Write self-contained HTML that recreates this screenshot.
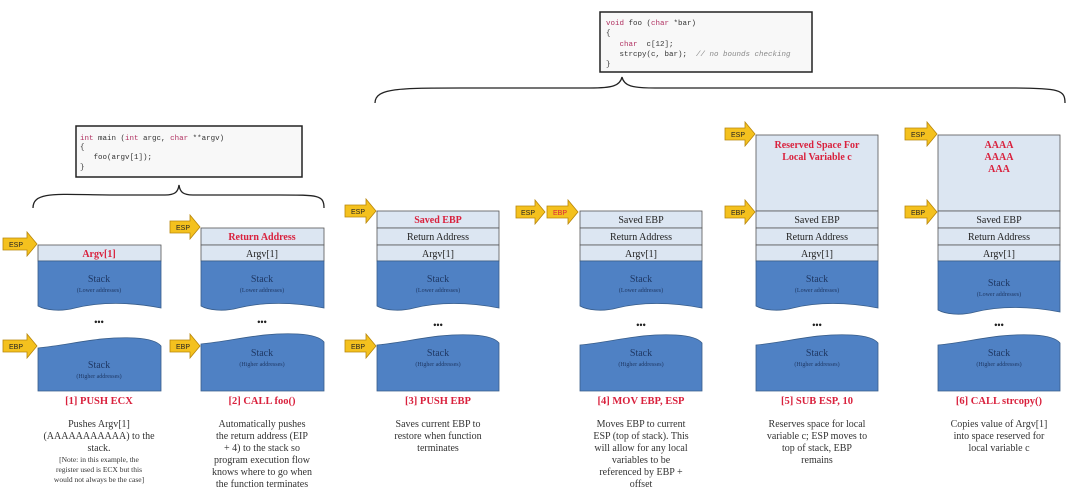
<!DOCTYPE html>
<html><head><meta charset="utf-8"><style>
html,body{margin:0;padding:0;background:#fff;}
svg{display:block;}
.r{font-family:"Liberation Serif",serif;font-size:10px;text-anchor:middle;fill:#222;}
.red{fill:#d9213d;font-weight:bold;}
.st{font-family:"Liberation Serif",serif;font-size:10px;text-anchor:middle;fill:#1f3864;}
.sm{font-family:"Liberation Serif",serif;font-size:6px;text-anchor:middle;fill:#1f3864;}
.t{font-family:"Liberation Serif",serif;font-size:10.5px;font-weight:bold;text-anchor:middle;fill:#d9213d;}
.d{font-family:"Liberation Serif",serif;font-size:10px;text-anchor:middle;fill:#333;}
.n{font-family:"Liberation Serif",serif;font-size:7.5px;text-anchor:middle;fill:#333;}
.c{font-family:"Liberation Mono",monospace;font-size:7.5px;fill:#333;white-space:pre;}
.k{fill:#b03060;}
.cm{fill:#888;font-style:italic;}
.a{font-family:"Liberation Sans",sans-serif;font-size:7px;fill:#222;}
.row{fill:#dce6f2;stroke:#555;stroke-width:0.8;}
.blue{fill:#4f81c4;stroke:#385d8a;stroke-width:0.8;}
.arr{fill:#f4c11e;stroke:#b8860b;stroke-width:0.8;}
</style></head><body>
<svg width="1080" height="492" viewBox="0 0 1080 492" xmlns="http://www.w3.org/2000/svg">
<rect width="1080" height="492" fill="#fff"/>

<!-- code boxes -->
<rect x="600" y="12" width="212" height="60" fill="#f8f8f8" stroke="#222" stroke-width="1.5"/>
<text class="c" x="606" y="25"><tspan class="k">void</tspan> foo (<tspan class="k">char</tspan> *bar)</text>
<text class="c" x="606" y="35">{</text>
<text class="c" x="606" y="46">   <tspan class="k">char</tspan>  c[12];</text>
<text class="c" x="606" y="56">   strcpy(c, bar);  <tspan class="cm">// no bounds checking</tspan></text>
<text class="c" x="606" y="66">}</text>

<rect x="76" y="126" width="226" height="51" fill="#f8f8f8" stroke="#222" stroke-width="1.5"/>
<text class="c" x="80" y="140"><tspan class="k">int</tspan> main (<tspan class="k">int</tspan> argc, <tspan class="k">char</tspan> **argv)</text>
<text class="c" x="80" y="149">{</text>
<text class="c" x="80" y="159">   foo(argv[1]);</text>
<text class="c" x="80" y="169">}</text>

<!-- braces -->
<path d="M33,208 C33,190 60,195 120,195 L165,195 C175,195 178,192 179,185 C180,192 183,195 193,195 L280,195 C318,195 324,195 324,208" fill="none" stroke="#222" stroke-width="1.3"/>
<path d="M375,103 C375,88 400,88 460,88 L590,88 C612,88 620,86 622,77 C624,86 632,88 655,88 L1010,88 C1060,88 1065,90 1065,103" fill="none" stroke="#222" stroke-width="1.3"/>

<!-- Column 1 -->
<rect class="row" x="38" y="245" width="123" height="16"/>
<text class="r red" x="99" y="257">Argv[1]</text>
<path class="blue" d="M38,261 H161 V308 C130,302 100,302 75,308 C60,312 45,310 38,306 Z"/>
<text class="st" x="99" y="282">Stack</text><text class="sm" x="99" y="292">(Lower addresses)</text>
<text class="r" x="99" y="325" style="font-size:9px;font-weight:bold">•••</text>
<path class="blue" d="M38,348 C70,345 100,336 135,338 C150,339 158,342 161,346 V391 H38 Z"/>
<text class="st" x="99" y="368">Stack</text><text class="sm" x="99" y="378">(Higher addresses)</text>

<!-- Column 2 -->
<rect class="row" x="201" y="228" width="123" height="17"/>
<text class="r red" x="262" y="240">Return Address</text>
<rect class="row" x="201" y="245" width="123" height="16"/>
<text class="r" x="262" y="257">Argv[1]</text>
<path class="blue" d="M201,261 H324 V308 C293,302 263,302 238,308 C223,312 208,310 201,306 Z"/>
<text class="st" x="262" y="282">Stack</text><text class="sm" x="262" y="292">(Lower addresses)</text>
<text class="r" x="262" y="325" style="font-size:9px;font-weight:bold">•••</text>
<path class="blue" d="M201,344 C233,341 263,332 298,334 C313,335 321,338 324,342 V391 H201 Z"/>
<text class="st" x="262" y="356">Stack</text><text class="sm" x="262" y="366">(Higher addresses)</text>

<!-- generic cols 3-6 -->
<g id="c3">
<rect class="row" x="377" y="211" width="122" height="17"/>
<text class="r red" x="438" y="223">Saved EBP</text>
<rect class="row" x="377" y="228" width="122" height="17"/>
<text class="r" x="438" y="240">Return Address</text>
<rect class="row" x="377" y="245" width="122" height="16"/>
<text class="r" x="438" y="257">Argv[1]</text>
<path class="blue" d="M377,261 H499 V308 C468,302 438,302 414,308 C399,312 384,310 377,306 Z"/>
<text class="st" x="438" y="282">Stack</text><text class="sm" x="438" y="292">(Lower addresses)</text>
<text class="r" x="438" y="328" style="font-size:9px;font-weight:bold">•••</text>
<path class="blue" d="M377,345 C409,342 438,333 473,335 C488,336 496,339 499,343 V391 H377 Z"/>
<text class="st" x="438" y="356">Stack</text><text class="sm" x="438" y="366">(Higher addresses)</text>
</g>

<g>
<rect class="row" x="580" y="211" width="122" height="17"/>
<text class="r" x="641" y="223">Saved EBP</text>
<rect class="row" x="580" y="228" width="122" height="17"/>
<text class="r" x="641" y="240">Return Address</text>
<rect class="row" x="580" y="245" width="122" height="16"/>
<text class="r" x="641" y="257">Argv[1]</text>
<path class="blue" d="M580,261 H702 V308 C671,302 641,302 617,308 C602,312 587,310 580,306 Z"/>
<text class="st" x="641" y="282">Stack</text><text class="sm" x="641" y="292">(Lower addresses)</text>
<text class="r" x="641" y="328" style="font-size:9px;font-weight:bold">•••</text>
<path class="blue" d="M580,345 C612,342 641,333 676,335 C691,336 699,339 702,343 V391 H580 Z"/>
<text class="st" x="641" y="356">Stack</text><text class="sm" x="641" y="366">(Higher addresses)</text>
</g>

<g>
<rect class="row" x="756" y="135" width="122" height="76"/>
<text class="r red" x="817" y="148">Reserved Space For</text>
<text class="r red" x="817" y="160">Local Variable c</text>
<rect class="row" x="756" y="211" width="122" height="17"/>
<text class="r" x="817" y="223">Saved EBP</text>
<rect class="row" x="756" y="228" width="122" height="17"/>
<text class="r" x="817" y="240">Return Address</text>
<rect class="row" x="756" y="245" width="122" height="16"/>
<text class="r" x="817" y="257">Argv[1]</text>
<path class="blue" d="M756,261 H878 V308 C847,302 817,302 793,308 C778,312 763,310 756,306 Z"/>
<text class="st" x="817" y="282">Stack</text><text class="sm" x="817" y="292">(Lower addresses)</text>
<text class="r" x="817" y="328" style="font-size:9px;font-weight:bold">•••</text>
<path class="blue" d="M756,345 C788,342 817,333 852,335 C867,336 875,339 878,343 V391 H756 Z"/>
<text class="st" x="817" y="356">Stack</text><text class="sm" x="817" y="366">(Higher addresses)</text>
</g>

<g>
<rect class="row" x="938" y="135" width="122" height="76"/>
<text class="r red" x="999" y="148">AAAA</text>
<text class="r red" x="999" y="160">AAAA</text>
<text class="r red" x="999" y="172">AAA</text>
<rect class="row" x="938" y="211" width="122" height="17"/>
<text class="r" x="999" y="223">Saved EBP</text>
<rect class="row" x="938" y="228" width="122" height="17"/>
<text class="r" x="999" y="240">Return Address</text>
<rect class="row" x="938" y="245" width="122" height="16"/>
<text class="r" x="999" y="257">Argv[1]</text>
<path class="blue" d="M938,261 H1060 V312 C1029,306 999,306 975,312 C960,316 945,314 938,310 Z"/>
<text class="st" x="999" y="286">Stack</text><text class="sm" x="999" y="296">(Lower addresses)</text>
<text class="r" x="999" y="328" style="font-size:9px;font-weight:bold">•••</text>
<path class="blue" d="M938,345 C970,342 999,333 1034,335 C1049,336 1057,339 1060,343 V391 H938 Z"/>
<text class="st" x="999" y="356">Stack</text><text class="sm" x="999" y="366">(Higher addresses)</text>
</g>

<!-- arrows: path helper manually -->
<g>
<path class="arr" d="M3,238 H27 V232 L37,244 L27,256 V250 H3 Z"/><text class="a" x="9" y="247">ESP</text>
<path class="arr" d="M3,340 H27 V334 L37,346 L27,358 V352 H3 Z"/><text class="a" x="9" y="349">EBP</text>
<path class="arr" d="M170,221 H190 V215 L200,227 L190,239 V233 H170 Z"/><text class="a" x="176" y="230">ESP</text>
<path class="arr" d="M170,340 H190 V334 L200,346 L190,358 V352 H170 Z"/><text class="a" x="176" y="349">EBP</text>
<path class="arr" d="M345,205 H366 V199 L376,211 L366,223 V217 H345 Z"/><text class="a" x="351" y="214">ESP</text>
<path class="arr" d="M345,340 H366 V334 L376,346 L366,358 V352 H345 Z"/><text class="a" x="351" y="349">EBP</text>
<path class="arr" d="M516,206 H535 V200 L545,212 L535,224 V218 H516 Z"/><text class="a" x="521" y="215">ESP</text>
<path class="arr" d="M547,206 H568 V200 L578,212 L568,224 V218 H547 Z"/><text class="a" x="553" y="215" style="fill:#d9213d">EBP</text>
<path class="arr" d="M725,128 H745 V122 L755,134 L745,146 V140 H725 Z"/><text class="a" x="731" y="137">ESP</text>
<path class="arr" d="M725,206 H745 V200 L755,212 L745,224 V218 H725 Z"/><text class="a" x="731" y="215">EBP</text>
<path class="arr" d="M905,128 H927 V122 L937,134 L927,146 V140 H905 Z"/><text class="a" x="911" y="137">ESP</text>
<path class="arr" d="M905,206 H927 V200 L937,212 L927,224 V218 H905 Z"/><text class="a" x="911" y="215">EBP</text>
</g>

<!-- titles -->
<text class="t" x="99" y="404">[1] PUSH ECX</text>
<text class="t" x="262" y="404">[2] CALL foo()</text>
<text class="t" x="438" y="404">[3] PUSH EBP</text>
<text class="t" x="641" y="404">[4] MOV EBP, ESP</text>
<text class="t" x="817" y="404">[5] SUB ESP, 10</text>
<text class="t" x="999" y="404">[6] CALL strcopy()</text>

<!-- descriptions -->
<text class="d" x="99" y="427">Pushes Argv[1]</text>
<text class="d" x="99" y="439">(AAAAAAAAAAA) to the</text>
<text class="d" x="99" y="451">stack.</text>
<text class="n" x="99" y="462">[Note: in this example, the</text>
<text class="n" x="99" y="472">register used is ECX but this</text>
<text class="n" x="99" y="482">would not always be the case]</text>

<text class="d" x="262" y="427">Automatically pushes</text>
<text class="d" x="262" y="439">the return address (EIP</text>
<text class="d" x="262" y="451">+ 4) to the stack so</text>
<text class="d" x="262" y="463">program execution flow</text>
<text class="d" x="262" y="475">knows where to go when</text>
<text class="d" x="262" y="487">the function terminates</text>

<text class="d" x="438" y="427">Saves current EBP to</text>
<text class="d" x="438" y="439">restore when function</text>
<text class="d" x="438" y="451">terminates</text>

<text class="d" x="641" y="427">Moves EBP to current</text>
<text class="d" x="641" y="439">ESP (top of stack).  This</text>
<text class="d" x="641" y="451">will allow for any local</text>
<text class="d" x="641" y="463">variables to be</text>
<text class="d" x="641" y="475">referenced by EBP +</text>
<text class="d" x="641" y="487">offset</text>

<text class="d" x="817" y="427">Reserves space for local</text>
<text class="d" x="817" y="439">variable c; ESP moves to</text>
<text class="d" x="817" y="451">top of stack, EBP</text>
<text class="d" x="817" y="463">remains</text>

<text class="d" x="999" y="427">Copies value of Argv[1]</text>
<text class="d" x="999" y="439">into space reserved for</text>
<text class="d" x="999" y="451">local variable c</text>
</svg>
</body></html>
